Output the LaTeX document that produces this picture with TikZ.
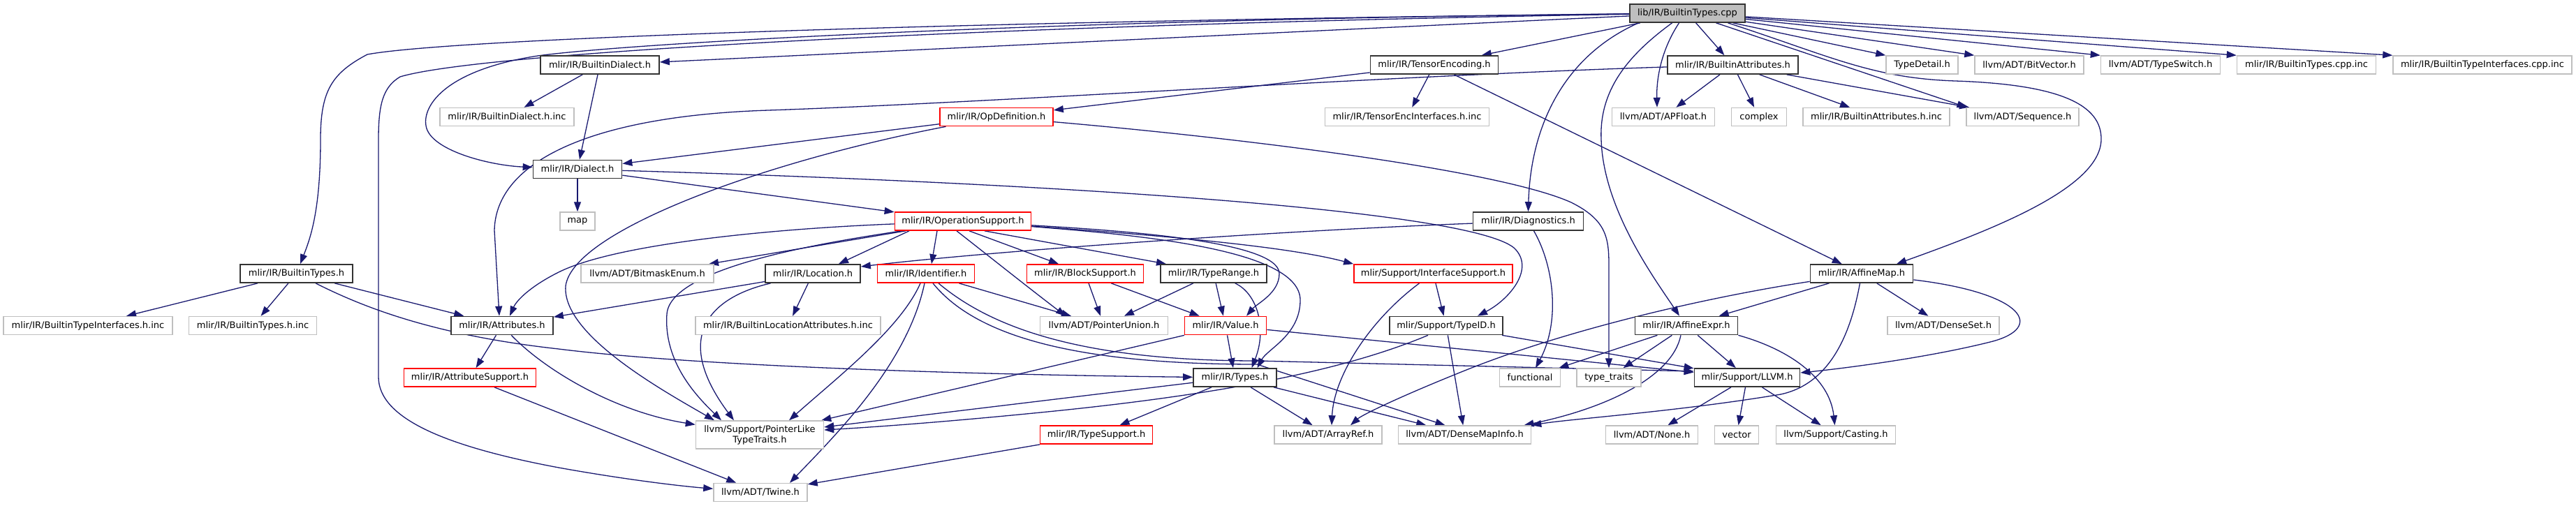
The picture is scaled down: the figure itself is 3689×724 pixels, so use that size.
\documentclass[tikz,border=0pt]{standalone}
\usepackage{fontspec}
\setmainfont{DejaVu Sans}
\usetikzlibrary{arrows.meta}
\definecolor{edgec}{RGB}{25,25,112}
\definecolor{grayb}{RGB}{191,191,191}
\definecolor{rootf}{RGB}{191,191,191}
\pgfdeclarelayer{bg}
\pgfsetlayers{bg,main}
\tikzset{
 base/.style={rectangle, minimum height=26pt, inner xsep=0pt, inner ysep=0pt, fill=white, text=black, font=\fontsize{13}{15}\selectfont},
 blk/.style={base, draw=black!80, line width=1.7pt},
 redn/.style={base, draw=red, line width=1.7pt},
 grn/.style={base, draw=grayb, line width=1.5pt},
 rootn/.style={base, draw=black!80, fill=rootf, line width=1.7pt},
 e/.style={draw=edgec, line width=1.3pt, -{Triangle[length=14pt,width=10pt]}},
}
\begin{document}
\begin{tikzpicture}[x=1pt,y=-1pt]
\useasboundingbox (0,0) rectangle (3689,724);
% row 0
\node[rootn, minimum width=165pt] (root) at (2416.5,19) {lib/IR/BuiltinTypes.cpp};
% row 1
\node[blk, minimum width=170pt] (bdial) at (859,93) {mlir/IR/BuiltinDialect.h};
\node[blk, minimum width=183pt] (tenc) at (2054,93) {mlir/IR/TensorEncoding.h};
\node[blk, minimum width=187pt] (battr) at (2481.5,93) {mlir/IR/BuiltinAttributes.h};
\node[grn, minimum width=103pt] (tdet) at (2752.5,93) {TypeDetail.h};
\node[grn, minimum width=156pt] (bitv) at (2906,93) {llvm/ADT/BitVector.h};
\node[grn, minimum width=171pt] (tsw) at (3094,93) {llvm/ADT/TypeSwitch.h};
\node[grn, minimum width=199pt] (btcpp) at (3303,93) {mlir/IR/BuiltinTypes.cpp.inc};
\node[grn, minimum width=256pt] (bticpp) at (3555,93) {mlir/IR/BuiltinTypeInterfaces.cpp.inc};
% row 2
\node[grn, minimum width=192pt] (bdialinc) at (726,167.5) {mlir/IR/BuiltinDialect.h.inc};
\node[redn, minimum width=162pt] (opdef) at (1427,167.5) {mlir/IR/OpDefinition.h};
\node[grn, minimum width=235pt] (teiinc) at (2015,167.5) {mlir/IR/TensorEncInterfaces.h.inc};
\node[grn, minimum width=147pt] (apf) at (2382,167.5) {llvm/ADT/APFloat.h};
\node[grn, minimum width=79pt] (cplx) at (2519,167.5) {complex};
\node[grn, minimum width=210pt] (battrinc) at (2687,167.5) {mlir/IR/BuiltinAttributes.h.inc};
\node[grn, minimum width=161pt] (seq) at (2896.5,167.5) {llvm/ADT/Sequence.h};
% row 3
\node[blk, minimum width=127pt] (dial) at (827,242.5) {mlir/IR/Dialect.h};
% row 4
\node[grn, minimum width=50pt] (map) at (827,317) {map};
\node[redn, minimum width=195pt] (opsup) at (1379,317) {mlir/IR/OperationSupport.h};
\node[blk, minimum width=158pt] (diag) at (2188.5,317) {mlir/IR/Diagnostics.h};
% row 5
\node[blk, minimum width=161pt] (btypes) at (424.5,392) {mlir/IR/BuiltinTypes.h};
\node[grn, minimum width=190pt] (bmask) at (927,392) {llvm/ADT/BitmaskEnum.h};
\node[blk, minimum width=136pt] (loc) at (1164,392) {mlir/IR/Location.h};
\node[redn, minimum width=139pt] (ident) at (1326,392) {mlir/IR/Identifier.h};
\node[redn, minimum width=167pt] (blksup) at (1554,392) {mlir/IR/BlockSupport.h};
\node[blk, minimum width=152pt] (trange) at (1738,392) {mlir/IR/TypeRange.h};
\node[redn, minimum width=227pt] (ifsup) at (2052.5,392) {mlir/Support/InterfaceSupport.h};
\node[blk, minimum width=147pt] (amap) at (2666,392) {mlir/IR/AffineMap.h};
% row 6
\node[grn, minimum width=242pt] (btiinc) at (126,466.5) {mlir/IR/BuiltinTypeInterfaces.h.inc};
\node[grn, minimum width=183pt] (btinc) at (362,466.5) {mlir/IR/BuiltinTypes.h.inc};
\node[blk, minimum width=146pt] (attrs) at (719,466.5) {mlir/IR/Attributes.h};
\node[grn, minimum width=265pt] (blocinc) at (1128.5,466.5) {mlir/IR/BuiltinLocationAttributes.h.inc};
\node[grn, minimum width=183pt] (punion) at (1581,466.5) {llvm/ADT/PointerUnion.h};
\node[redn, minimum width=117pt] (value) at (1755,466.5) {mlir/IR/Value.h};
\node[blk, minimum width=162pt] (typeid) at (2071,466.5) {mlir/Support/TypeID.h};
\node[blk, minimum width=147pt] (aexpr) at (2415,466.5) {mlir/IR/AffineExpr.h};
\node[grn, minimum width=160pt] (dset) at (2783,466.5) {llvm/ADT/DenseSet.h};
% row 7
\node[redn, minimum width=189pt] (attrsup) at (673,541) {mlir/IR/AttributeSupport.h};
\node[blk, minimum width=119pt] (types) at (1768.5,541) {mlir/IR/Types.h};
\node[grn, minimum width=87pt] (func) at (2191,541) {functional};
\node[grn, minimum width=92pt] (ttraits) at (2304,541) {type\_traits};
\node[blk, minimum width=151pt] (llvmh) at (2502,541) {mlir/Support/LLVM.h};
% row 8
\node[grn, minimum width=183pt, minimum height=40pt, align=center] (plt) at (1088,623) {llvm/Support/PointerLike\\TypeTraits.h};
\node[redn, minimum width=161pt] (tsup) at (1570,623) {mlir/IR/TypeSupport.h};
\node[grn, minimum width=154pt] (aref) at (1902,623) {llvm/ADT/ArrayRef.h};
\node[grn, minimum width=190pt] (dmi) at (2097.5,623) {llvm/ADT/DenseMapInfo.h};
\node[grn, minimum width=132pt] (none) at (2365.5,623) {llvm/ADT/None.h};
\node[grn, minimum width=63pt] (vec) at (2487,623) {vector};
\node[grn, minimum width=171pt] (cast) at (2629,623) {llvm/Support/Casting.h};
% row 9
\node[grn, minimum width=134pt] (twine) at (1089,705.5) {llvm/ADT/Twine.h};

\begin{pgfonlayer}{bg}
% root
\draw[e] (root) .. controls (1400,30) and (650,55) .. (526,78) .. controls (475,105) and (459,130) .. (459,200) .. controls (459,300) and (445,340) .. (btypes);
\draw[e] (root) .. controls (1500,34) and (700,72) .. (573,110) .. controls (548,125) and (542,150) .. (542,200) -- (542,540) .. controls (542,600) and (640,640) .. (800,670) .. controls (900,688) and (980,697) .. (twine);
\draw[e] (root) .. controls (1500,28) and (900,62) .. (770,80) .. controls (640,100) and (605,150) .. (610,180) .. controls (615,215) and (700,237) .. (dial);
\draw[e] (root) -- (bdial);
\draw[e] (root) -- (tenc);
\draw[e] ([xshift=-70pt]root.south) .. controls (2240,80) and (2192,180) .. (diag.north);
\draw[e] ([xshift=-22pt]root.south) .. controls (2330,80) and (2290,130) .. (2293,200) .. controls (2296,300) and (2370,400) .. ([xshift=-10pt]aexpr.north);
\draw[e] ([xshift=-12pt]root.south) .. controls (2380,70) and (2372,110) .. ([xshift=-9pt]apf.north);
\draw[e] (root) -- (battr);
\draw[e] (root) -- ([xshift=-80pt]seq.north);
\draw[e] ([xshift=58pt]root.south) .. controls (2620,80) and (2680,112) .. (2800,116) .. controls (2950,121) and (3010,150) .. (3009,200) .. controls (3008,270) and (2850,330) .. ([xshift=50pt]amap.north);
\draw[e] (root) -- (tdet.north west);
\draw[e] (root) -- (bitv.north west);
\draw[e] (root) -- (tsw.north west);
\draw[e] (root) -- (btcpp.north west);
\draw[e] (root) -- (bticpp.north west);
% BuiltinDialect
\draw[e] (bdial) -- (bdialinc);
\draw[e] (bdial) -- (dial);
% Dialect
\draw[e] (dial) -- (map);
\draw[e] (dial) -- (opsup);
\draw[e] (dial) .. controls (1500,262) and (2100,300) .. (2168,355) .. controls (2200,385) and (2160,430) .. ([xshift=45pt]typeid.north);
% OpDefinition
\draw[e] (opdef) -- (dial);
\draw[e] (opdef) .. controls (1100,230) and (820,330) .. (810,410) .. controls (805,480) and (950,560) .. ([xshift=-65pt]plt.north);
\draw[e] (opdef) .. controls (1800,200) and (2150,245) .. (2250,290) .. controls (2300,315) and (2304,340) .. (2304,380) -- (ttraits);
% TensorEncoding
\draw[e] (tenc) -- (opdef);
\draw[e] (tenc) -- (teiinc);
\draw[e] (tenc) -- (amap);
% BuiltinAttributes
\draw[e] (battr) .. controls (2000,108) and (1400,148) .. (1100,158) .. controls (850,166) and (710,230) .. (708,330) -- ([xshift=-4pt]attrs.north);
\draw[e] (battr) -- (apf);
\draw[e] (battr) -- (cplx);
\draw[e] (battr) -- (battrinc);
\draw[e] (battr) -- (seq);
% Diagnostics
\draw[e] (diag) .. controls (1800,332) and (1400,362) .. ([yshift=10pt]loc.east);
\draw[e] (diag) .. controls (2225,380) and (2235,460) .. ([xshift=8pt]func.north);
% BuiltinTypes.h
\draw[e] (btypes) -- (btiinc);
\draw[e] (btypes) -- (btinc);
\draw[e] (btypes) -- (attrs);
\draw[e] (btypes) .. controls (520,440) and (620,480) .. (800,500) .. controls (1000,525) and (1400,537) .. (types);
% Attributes
\draw[e] (attrs) -- (attrsup);
\draw[e] (attrs) .. controls (780,530) and (880,590) .. (plt);
\draw[e] (attrsup) -- (twine);
% Location
\draw[e] (loc) -- (attrs);
\draw[e] (loc) -- (blocinc);
\draw[e] (loc) .. controls (1020,425) and (960,480) .. ([xshift=-37pt]plt.north);
% OperationSupport
\draw[e] ([xshift=-77pt]opsup.south) -- ([xshift=37pt]loc.north);
\draw[e] ([xshift=-37pt]opsup.south) -- ([xshift=8pt]ident.north);
\draw[e] ([xshift=-9pt]opsup.south) .. controls (1420,370) and (1470,410) .. ([xshift=-55pt]punion.north);
\draw[e] ([xshift=9pt]opsup.south) -- ([xshift=-38pt]blksup.north);
\draw[e] ([xshift=31pt]opsup.south) -- ([xshift=-68pt]trange.north);
\draw[e] (opsup) .. controls (1600,330) and (1832,345) .. (1832,392) .. controls (1832,420) and (1800,435) .. ([xshift=30pt]value.north);
\draw[e] (opsup) .. controls (1650,338) and (1862,360) .. (1862,430) .. controls (1862,480) and (1815,500) .. ([xshift=32pt]types.north);
\draw[e] (opsup) .. controls (1700,340) and (1850,355) .. (ifsup.north west);
\draw[e] (opsup) -- ([xshift=88pt]bmask.north);
\draw[e] (opsup) .. controls (1200,345) and (960,380) .. (955,450) .. controls (950,520) and (1000,570) .. ([xshift=-55pt]plt.north);
\draw[e] (opsup) .. controls (1100,328) and (880,350) .. (800,390) .. controls (760,410) and (740,430) .. ([xshift=11pt]attrs.north);
% Identifier
\draw[e] (ident) -- (punion);
\draw[e] ([xshift=-8pt]ident.south) .. controls (1290,470) and (1200,540) .. ([xshift=42pt]plt.north);
\draw[e] ([xshift=-2pt]ident.south) .. controls (1300,520) and (1200,620) .. ([xshift=42pt]twine.north);
\draw[e] ([xshift=18pt]ident.south) .. controls (1420,470) and (1550,517) .. (1800,517) -- ([yshift=9pt]llvmh.west);
\draw[e] ([xshift=10pt]ident.south) .. controls (1400,485) and (1550,522) .. (1800,522) -- ([xshift=-28pt]dmi.north);
% BlockSupport, TypeRange
\draw[e] (blksup) -- (punion);
\draw[e] (blksup) -- (value);
\draw[e] (trange) -- (punion);
\draw[e] (trange) -- (value);
\draw[e] (trange) .. controls (1800,420) and (1815,470) .. ([xshift=24pt]types.north);
% Value
\draw[e] (value) -- (types);
\draw[e] (value) -- (plt);
\draw[e] (value) -- (llvmh);
% Types
\draw[e] (types) -- (tsup);
\draw[e] (types) -- (plt);
\draw[e] (types) -- (aref);
\draw[e] (types) -- (dmi);
\draw[e] (tsup) -- (twine);
% InterfaceSupport
\draw[e] (ifsup) -- (typeid);
\draw[e] ([xshift=-20pt]ifsup.south) .. controls (1960,460) and (1910,540) .. ([xshift=5pt]aref.north);
% TypeID
\draw[e] ([xshift=-26pt]typeid.south) .. controls (1950,520) and (1800,560) .. (1500,590) .. controls (1350,605) and (1250,612) .. ([yshift=7pt]plt.east);
\draw[e] (typeid) -- (dmi);
\draw[e] (typeid) -- (llvmh);
% AffineExpr
\draw[e] (aexpr) -- (func);
\draw[e] (aexpr) -- (ttraits);
\draw[e] (aexpr) -- (llvmh);
\draw[e] ([xshift=-8pt]aexpr.south) .. controls (2395,540) and (2300,585) .. ([xshift=85pt]dmi.north);
\draw[e] (aexpr.south east) .. controls (2560,500) and (2620,540) .. (cast);
% AffineMap
\draw[e] (amap) -- (aexpr);
\draw[e] (amap) -- (dset);
\draw[e] (amap) .. controls (2900,420) and (2930,470) .. (2850,490) .. controls (2750,515) and (2620,530) .. ([yshift=7pt]llvmh.east);
\draw[e] (amap) .. controls (2450,425) and (2250,470) .. (2100,530) .. controls (2000,570) and (1950,595) .. ([xshift=32pt]aref.north);
\draw[e] (amap) .. controls (2650,480) and (2620,550) .. (2550,565) .. controls (2400,590) and (2250,600) .. (dmi.north east);
% LLVM.h
\draw[e] (llvmh) -- (none);
\draw[e] (llvmh) -- (vec);
\draw[e] (llvmh) -- (cast);
\end{pgfonlayer}
\end{tikzpicture}
\end{document}
